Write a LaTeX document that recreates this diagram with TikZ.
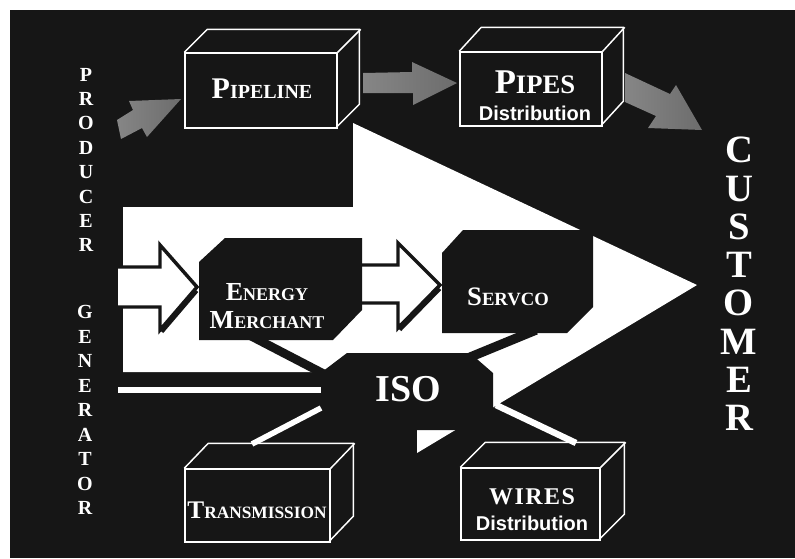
\documentclass[tikz,border=0pt]{standalone}
\usepackage{fontspec}
\setmainfont{Liberation Serif}
\newfontfamily\distfont{Liberation Sans}
\definecolor{bg}{RGB}{22,22,22}
% capital letter followed by smaller capitals
\newcommand\fakesc[4]{{\fontsize{#1}{#1}\selectfont #3}{\fontsize{#2}{#2}\selectfont #4}}

\tikzset{every picture/.style={line width=0.75pt}}

\begin{document}
\begin{tikzpicture}[x=0.75pt,y=0.75pt,yscale=-1,xscale=1,
	crate/.style={draw=white, line width=1.1pt, fill=bg},
	hollow/.style={draw=bg, line width=2.6pt, fill=white, miter limit=10},
	band/.style={draw=bg, line width=6.5pt},
	wire/.style={draw=white, line width=4.2pt},
	plate/.style={fill=bg},
	blockarrow/.style={left color=gray!95, right color=gray!85!black, shading angle=#1},
	caption/.style={text=white, font=\bfseries, inner sep=0pt}]
	\useasboundingbox (0,0) rectangle (795,558);
	\fill[white] (0,0) rectangle (795,558);
	\fill[bg] (10,10) rectangle (795,558);
	
	%Shape: grey arrows between the pipe boxes
	\shade[blockarrow=90] (117,120) -- (133,110) -- (129,101) -- (181,99) -- (147,137) -- (142,128) -- (121,139) -- cycle ;
	\shade[blockarrow=90] (363,73) -- (412,72) -- (412,62) -- (457,83) -- (413,105) -- (413,93) -- (363,93) -- cycle ;
	\shade[blockarrow=90] (625,73) -- (670,94) -- (676,85) -- (702,130) -- (648,128) -- (656,116) -- (625,102) -- cycle ;
	
	%Shape: Boxes
	\node[crate, minimum width=114pt, minimum height=56.25pt] (pipeline) at (261,90.5) {};
	\draw[crate, fill=none] (pipeline.north west) -- ++(23,-23) -- ++(152,0) -- ++(0,75) -- ++(-23,23) ;
	\draw[crate] (pipeline.north east) -- ++(23,-23) ;
	\node[crate, minimum width=106.5pt, minimum height=55.5pt] (pipes) at (531,89) {};
	\draw[crate, fill=none] (pipes.north west) -- ++(22,-24) -- ++(142,0) -- ++(0,74) -- ++(-22,24) ;
	\draw[crate] (pipes.north east) -- ++(22,-24) ;
	\node[crate, minimum width=108.75pt, minimum height=54.75pt] (transmission) at (257.5,505.5) {};
	\draw[crate, fill=none] (transmission.north west) -- ++(24,-25) -- ++(145,0) -- ++(0,73) -- ++(-24,25) ;
	\draw[crate] (transmission.north east) -- ++(24,-25) ;
	\node[crate, minimum width=104.25pt, minimum height=54pt] (wires) at (530.5,504) {};
	\draw[crate, fill=none] (wires.north west) -- ++(25,-25) -- ++(139,0) -- ++(0,72) -- ++(-25,25) ;
	\draw[crate] (wires.north east) -- ++(25,-25) ;
	
	%Shape: big white arrow
	\fill[white] (123,207) -- (353,207) -- (353,123) -- (697,285) -- (417,453) -- (417,372) -- (123,372) -- cycle ;
	
	%Shape: hollow arrows
	\draw[hollow] (118,267) -- (160,267) -- (160,245) -- (197,287) -- (160,330) -- (160,307) -- (118,307) ;
	\draw[bg, line width=2.4pt] (197,291) -- (162,332) ;
	\draw[hollow] (360,265) -- (398,265) -- (398,243) -- (440,285) -- (398,328) -- (398,303) -- (360,303) ;
	\draw[bg, line width=2.4pt] (440,289) -- (400,330) ;
	
	%Straight Lines: dark links into the ISO
	\coordinate (em-out) at (249,335);
	\coordinate (iso-nw) at (326,375);
	\coordinate (servco-out) at (536,330);
	\coordinate (iso-ne) at (468,358);
	\draw[band] (em-out) -- (iso-nw) ;
	\draw[band, line width=7pt] (servco-out) -- (iso-ne) ;
	
	%Shape: Energy Merchant, Servco, ISO
	\fill[plate] (225,238) -- (362,238) -- (362,310) -- (333,340) -- (199,340) -- (199,262) -- cycle ;
	\fill[plate] (463,230) -- (593,230) -- (593,307) -- (567,333) -- (442,333) -- (442,253) -- cycle ;
	\fill[plate] (314,378) -- (347,353) -- (470,353) -- (493,373) -- (493,430) -- (314,430) -- cycle ;
	
	%Straight Lines: white links
	\coordinate (gen-out) at (118,390);
	\coordinate (iso-w) at (321,390);
	\coordinate (iso-sw) at (321,408);
	\coordinate (trans-in) at (252,444);
	\coordinate (iso-se) at (496,405);
	\coordinate (wires-in) at (576,443);
	\draw[wire] (gen-out) -- (iso-w) ;
	\draw[wire] (iso-sw) -- (trans-in) ;
	\draw[wire, line width=4.8pt] (iso-se) -- (wires-in) ;
	
	% Text Node
	\node[caption, align=center, font=\fontsize{15}{18.3}\selectfont\bfseries] (producer) at (86,160) {P\\R\\O\\D\\U\\C\\E\\R};
	% Text Node
	\node[caption, align=center, font=\fontsize{15}{18.4}\selectfont\bfseries] (generator) at (85,410) {G\\E\\N\\E\\R\\A\\T\\O\\R};
	% Text Node
	\node[caption, align=center, font=\fontsize{29}{28.7}\selectfont\bfseries] (customer) at (739,284) {C\\U\\S\\T\\O\\M\\E\\R};
	% Text Node
	\node[caption] (pipelinetxt) at (262,89) {\fakesc{22.5}{15}{P}{IPELINE}};
	% Text Node
	\node[caption] (pipestxt) at (535,82) {\fakesc{26}{20}{P}{IPES}};
	% Text Node
	\node[caption] (pipesdist) at (535,113) {\distfont\fontsize{15}{15}\selectfont Distribution};
	% Text Node
	\node[caption, align=center, font=\fontsize{20}{21}\selectfont\bfseries] (merchant) at (267,306) {\fakesc{19.5}{13.5}{E}{NERGY}\\\fakesc{19.5}{13.5}{M}{ERCHANT}};
	% Text Node
	\node[caption] (servco) at (508,297) {\fakesc{20}{14}{S}{ERVCO}};
	% Text Node
	\node[caption] (iso) at (408,389) {\fontsize{28.5}{28.5}\selectfont ISO};
	% Text Node
	\node[caption] (transtxt) at (257,510) {\fakesc{19}{13}{T}{RANSMISSION}};
	% Text Node
	\node[caption] (wirestxt) at (532,497) {\fontsize{18}{18}\selectfont\addfontfeature{LetterSpace=6}WIRES};
	% Text Node
	\node[caption] (wiresdist) at (532,523) {\distfont\fontsize{15}{15}\selectfont Distribution};
\end{tikzpicture}
\end{document}
